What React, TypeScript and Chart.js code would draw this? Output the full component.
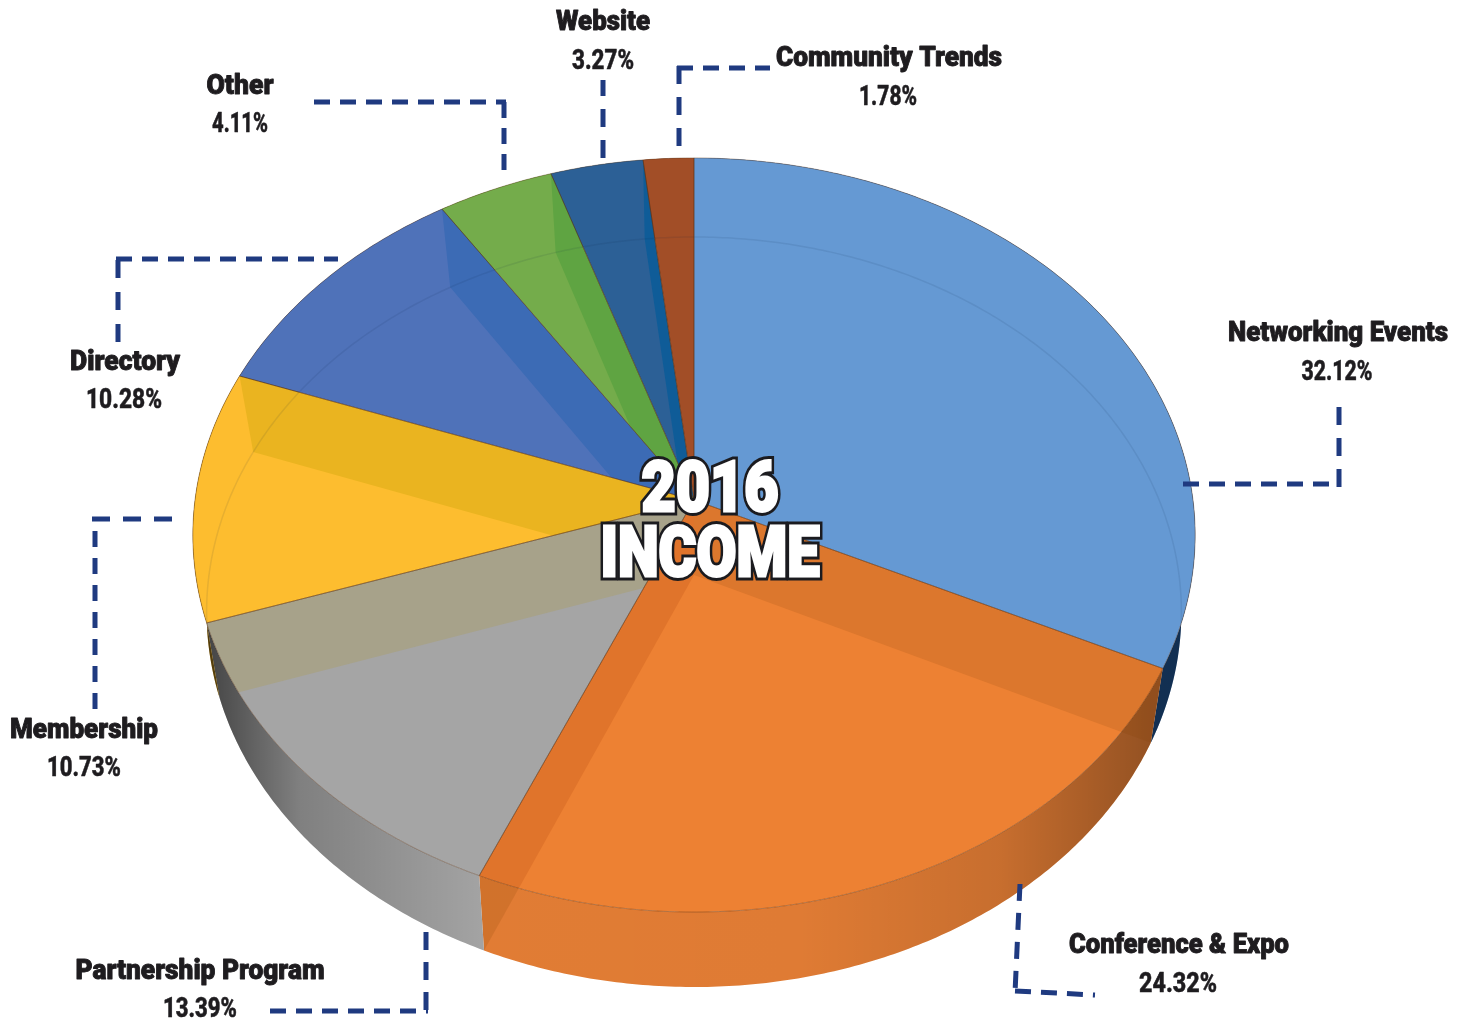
import React, { useEffect, useRef } from "react";
import { Chart, PieController, ArcElement } from "chart.js";

const categories = ["Networking Events", "Conference & Expo", "Partnership Program", "Membership", "Directory", "Other", "Website", "Community Trends"];
const shares = [32.12, 24.32, 13.39, 10.73, 10.28, 4.11, 3.27, 1.78];
const topColors = ["#6599D3", "#ED8133", "#A5A5A5", "#FDBD2F", "#4F72B9", "#74AC4B", "#2C6096", "#A24E27"];
const wallColors = ["#1C4A80", "#E88036", "#A8A8A8", "#C8931C", "#3C6BB5", "#5FA442", "#0F5C98", "#8A3F1E"];
const edgeBandColors = ["#DC772D", "#E0742B", "#A7A28A", "#EAB420", "#3C6BB5", "#5FA442", "#0F5C98", ""];
const edgeBandHosts = [1, 1, 2, 3, 4, 5, 6, 7];

const labelAnchors = [
  [1338, 341, 220, 1337, 380, 71],
  [1179, 953, 220, 1178, 992, 78],
  [200, 979, 249, 200, 1017, 74],
  [84, 738, 148, 84, 776, 74],
  [125, 370, 110, 124, 408, 76],
  [240, 94, 67, 240, 132, 56],
  [603, 30, 94, 603, 69, 62],
  [889, 66, 226, 888, 105, 58],
];
const leaders = [
  [[1183, 484], [1336, 484]],
  [[1339, 487], [1339, 405]],
  [[1020, 884], [1015, 993]],
  [[1015, 991], [1095, 995]],
  [[426, 932], [426, 1013]],
  [[270, 1011], [428, 1011]],
  [[95, 709], [95, 528]],
  [[92, 519], [175, 519]],
  [[118, 342], [118, 256]],
  [[116, 259], [338, 259]],
  [[314, 102], [506, 102]],
  [[504, 170], [504, 100]],
  [[603, 158], [603, 80]],
  [[679, 146], [679, 66]],
  [[677, 68], [770, 68]],
];
const leaderDashes = [
  [16, 10], [18, 13], [17, 12], [16, 10], [18, 12], [16, 10], [16, 11], [18, 13],
  [18, 14], [16, 10], [16, 10], [16, 10], [18, 13], [18, 13], [16, 10],
];
const titleLines = ["2016", "INCOME"];

const CX = 694;
const TOP = { a: 327.4, b: 500, c: -0.0928, r: 499 };
const BOTTOM = { a: 314.6, b: 575, c: -0.0987, r: 485 };
type Face = typeof TOP;

function project(face: Face, angle: number): [number, number] {
  const u = Math.cos(angle);
  const v = Math.sin(angle);
  const w = 1 + face.c * v;
  return [CX + (face.r * u) / w, (face.a * v + face.b) / w];
}

function rim(ctx: CanvasRenderingContext2D, face: Face, from: number, to: number) {
  const steps = Math.max(2, Math.ceil(Math.abs(to - from) / 0.01));
  for (let i = 0; i <= steps; i++) {
    const [x, y] = project(face, from + ((to - from) * i) / steps);
    ctx.lineTo(x, y);
  }
}

function wedge(ctx: CanvasRenderingContext2D, from: number, to: number) {
  ctx.beginPath();
  ctx.moveTo(CX, TOP.b);
  rim(ctx, TOP, from, to);
  ctx.closePath();
}

function bandPath(ctx: CanvasRenderingContext2D, angle: number) {
  ctx.beginPath();
  ctx.moveTo(CX, TOP.b);
  let [x, y] = project(TOP, angle);
  ctx.lineTo(x, y);
  [x, y] = project(BOTTOM, angle);
  ctx.lineTo(x, y);
  ctx.lineTo(CX, BOTTOM.b);
  ctx.closePath();
}

class PerspectiveArc extends ArcElement {
  static id = "perspectiveArc";

  draw(ctx: CanvasRenderingContext2D) {
    const { startAngle, endAngle } = (this as any).getProps(["startAngle", "endAngle"]);
    ctx.save();
    wedge(ctx, startAngle, endAngle);
    ctx.fillStyle = (this as any).options.backgroundColor;
    ctx.fill();
    ctx.restore();
  }
}

Chart.register(PieController, PerspectiveArc);
(Chart.defaults as any).datasets.pie.dataElementType = "perspectiveArc";

const volume = {
  id: "volume",
  beforeDatasetsDraw(chart: any) {
    const ctx: CanvasRenderingContext2D = chart.ctx;
    const arcs = chart.getDatasetMeta(0).data;
    arcs.forEach((arc: any, i: number) => {
      ctx.beginPath();
      const [sx, sy] = project(TOP, arc.startAngle);
      ctx.moveTo(sx, sy);
      rim(ctx, TOP, arc.startAngle, arc.endAngle);
      rim(ctx, BOTTOM, arc.endAngle, arc.startAngle);
      ctx.closePath();
      ctx.fillStyle = wallColors[i];
      ctx.fill();
      const shade = ctx.createLinearGradient(200, 0, 1190, 0);
      const stops: [number, number][] = [[200, 0.62], [300, 0.24], [480, 0.03], [800, 0.04], [1000, 0.14], [1150, 0.36]];
      stops.forEach(([x, alpha]) => shade.addColorStop((x - 200) / 990, `rgba(0,0,0,${alpha})`));
      ctx.fillStyle = shade;
      ctx.fill();
    });
    arcs.forEach((arc: any, i: number) => {
      if (!edgeBandColors[i] || i > 1) return;
      ctx.save();
      ctx.beginPath();
      const [sx, sy] = project(TOP, arcs[1].startAngle);
      ctx.moveTo(sx, sy);
      rim(ctx, TOP, arcs[1].startAngle, arcs[1].endAngle);
      rim(ctx, BOTTOM, arcs[1].endAngle, arcs[1].startAngle);
      ctx.closePath();
      ctx.clip();
      bandPath(ctx, arc.endAngle);
      ctx.fillStyle = "rgba(130,60,0,0.16)";
      ctx.fill();
      ctx.restore();
    });
  },
  afterDatasetsDraw(chart: any) {
    const ctx: CanvasRenderingContext2D = chart.ctx;
    const arcs = chart.getDatasetMeta(0).data;
    arcs.forEach((arc: any, i: number) => {
      if (!edgeBandColors[i]) return;
      const host = arcs[edgeBandHosts[i]];
      ctx.save();
      wedge(ctx, host.startAngle, host.endAngle);
      ctx.clip();
      bandPath(ctx, arc.endAngle);
      ctx.fillStyle = edgeBandColors[i];
      ctx.fill();
      ctx.restore();
    });

    ctx.save();
    ctx.beginPath();
    rim(ctx, TOP, 0, Math.PI * 2);
    ctx.closePath();
    ctx.clip();
    ctx.beginPath();
    const first = project(BOTTOM, -Math.PI - 0.25);
    ctx.moveTo(first[0], first[1]);
    rim(ctx, BOTTOM, -Math.PI - 0.25, 0.25);
    ctx.strokeStyle = "rgba(10,30,70,0.09)";
    ctx.lineWidth = 1.5;
    ctx.stroke();
    ctx.restore();

    ctx.save();
    ctx.lineWidth = 1;
    ctx.strokeStyle = "rgba(90,50,20,0.4)";
    arcs.forEach((arc: any) => {
      wedge(ctx, arc.startAngle, arc.endAngle);
      ctx.stroke();
    });
    ctx.restore();
  },
  afterDraw(chart: any) {
    const ctx: CanvasRenderingContext2D = chart.ctx;
    ctx.save();
    ctx.strokeStyle = "#1F3A80";
    ctx.lineWidth = 5;
    leaders.forEach((path, i) => {
      ctx.setLineDash(leaderDashes[i]);
      ctx.beginPath();
      ctx.moveTo(path[0][0], path[0][1]);
      ctx.lineTo(path[1][0], path[1][1]);
      ctx.stroke();
    });
    ctx.setLineDash([]);

    ctx.textAlign = "center";
    ctx.textBaseline = "alphabetic";
    ctx.fillStyle = "#1E1C1F";
    ctx.strokeStyle = "#1E1C1F";
    ctx.lineJoin = "round";
    categories.forEach((name, i) => {
      const [nx, ny, nw, px, py, pw] = labelAnchors[i];
      ctx.font = '900 27px Roboto, "Noto Sans", sans-serif';
      ctx.lineWidth = 0.9;
      ctx.strokeText(name, nx, ny, nw);
      ctx.fillText(name, nx, ny, nw);
      ctx.font = '800 27px Roboto, "Noto Sans", sans-serif';
      ctx.lineWidth = 0.5;
      ctx.strokeText(`${shares[i].toFixed(2)}%`, px, py, pw);
      ctx.fillText(`${shares[i].toFixed(2)}%`, px, py, pw);
    });

    ctx.font = '900 70px Roboto, "Noto Sans", sans-serif';
    ctx.lineJoin = "miter";
    ctx.miterLimit = 3;
    ctx.fillStyle = "#ffffff";
    const titleRows: [number, number, number][] = [[710, 511, 137], [710, 576, 219]];
    titleLines.forEach((t, i) => {
      const [x, y, w] = titleRows[i];
      ctx.lineWidth = 9;
      ctx.strokeStyle = "#1b1b1f";
      ctx.strokeText(t, x, y, w);
    });
    titleLines.forEach((t, i) => {
      const [x, y, w] = titleRows[i];
      ctx.lineWidth = 3;
      ctx.strokeStyle = "#ffffff";
      ctx.strokeText(t, x, y, w);
      ctx.fillText(t, x, y, w);
    });
    ctx.restore();
  },
};

export default function App() {
  const ref = useRef<HTMLCanvasElement>(null);
  useEffect(() => {
    document.body.style.margin = "0";
    const chart = new Chart(ref.current as HTMLCanvasElement, {
      type: "pie",
      data: {
        labels: categories,
        datasets: [{ data: shares, backgroundColor: topColors, borderWidth: 0 }],
      },
      options: {
        responsive: false,
        animation: false,
        plugins: { legend: { display: false }, tooltip: { enabled: false } },
      },
      plugins: [volume],
    } as any);
    return () => chart.destroy();
  }, []);
  return (
    <div style={{ width: 1458, height: 1020, background: "#fff" }}>
      <canvas ref={ref} width={1458} height={1020} style={{ display: "block" }} />
    </div>
  );
}
